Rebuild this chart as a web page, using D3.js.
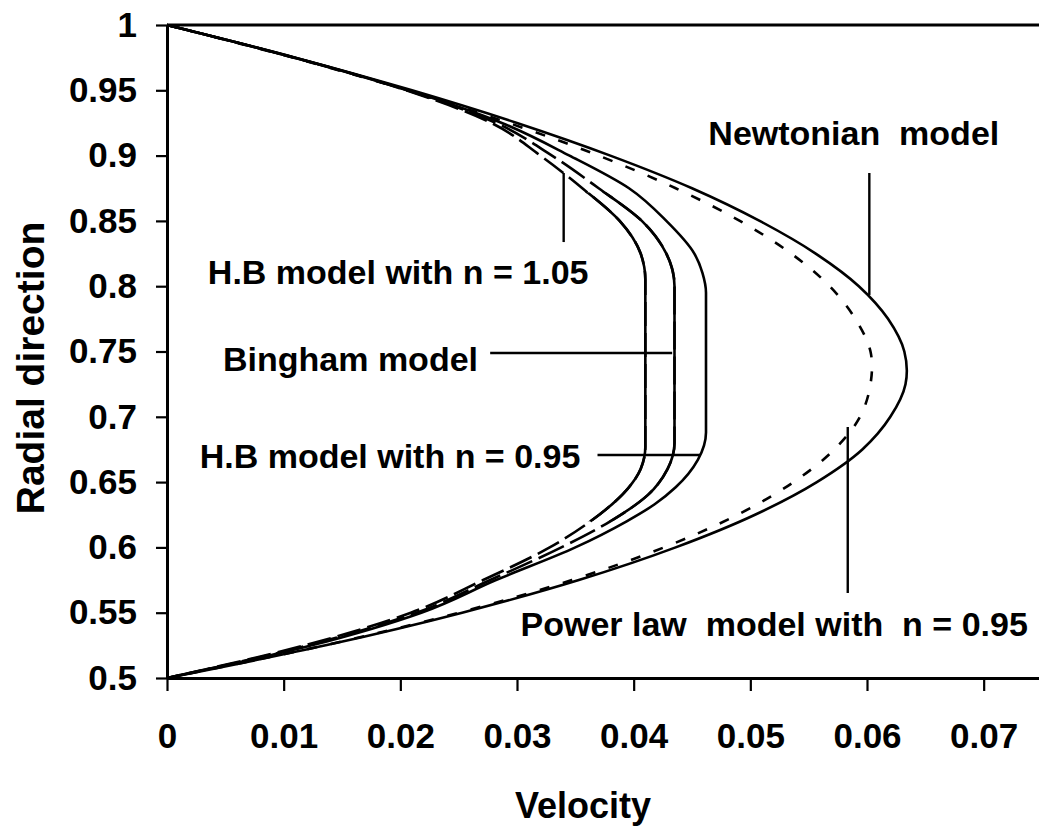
<!DOCTYPE html>
<html>
<head>
<meta charset="utf-8">
<script src="https://cdn.jsdelivr.net/npm/d3@7"></script>
<style>
  body { margin: 0; background: #fff; }
  text { font-family: "Liberation Sans", Arial, sans-serif; font-weight: bold; fill: #000; white-space: pre; }
</style>
</head>
<body>
<svg id="chart" width="1039" height="829"></svg>
<script>
// Radial positions (outer wall r = 1 down to inner wall r = 0.5)
const radialGrid = [1.0, 0.975, 0.95, 0.925, 0.9, 0.875, 0.85, 0.825, 0.8, 0.775, 0.75,
                    0.725, 0.7, 0.675, 0.65, 0.625, 0.6, 0.575, 0.55, 0.525, 0.5];
const newtonianVelocity = [0, 0.0110, 0.0210, 0.0300, 0.0380, 0.0450, 0.0508, 0.0556, 0.0593, 0.0618, 0.0632,
                           0.0633, 0.0620, 0.0596, 0.0557, 0.0504, 0.0436, 0.0353, 0.0253, 0.0136, 0];
const powerLawVelocity  = [0, 0.0108, 0.0206, 0.0293, 0.0370, 0.0436, 0.0491, 0.0535, 0.0568, 0.0590, 0.0603,
                           0.0603, 0.0594, 0.0572, 0.0537, 0.0489, 0.0426, 0.0347, 0.0250, 0.0135, 0];

// Herschel-Bulkley n = 1.05 (plug between r = 0.677 and 0.805)
const hbHighRadius   = [1.0, 0.975, 0.95, 0.925, 0.9, 0.875, 0.85, 0.825, 0.805, 0.677, 0.66, 0.645, 0.62, 0.6, 0.575, 0.55, 0.525, 0.5];
const hbHighVelocity = [0, 0.0109, 0.0205, 0.0278, 0.0320, 0.0356, 0.0388, 0.0406, 0.0410, 0.0410, 0.0406, 0.0395, 0.0363, 0.0328, 0.0271, 0.0209, 0.0118, 0];

// Bingham (plug between r = 0.68 and 0.80)
const binghamRadius   = [1.0, 0.975, 0.95, 0.925, 0.9, 0.875, 0.85, 0.825, 0.8, 0.68, 0.66, 0.64, 0.62, 0.6, 0.575, 0.55, 0.525, 0.5];
const binghamVelocity = [0, 0.0109, 0.0206, 0.0282, 0.0330, 0.0370, 0.0407, 0.0428, 0.0435, 0.0435, 0.0429, 0.0412, 0.0380, 0.0338, 0.0277, 0.0214, 0.0121, 0];

// Herschel-Bulkley n = 0.95 (plug between r = 0.688 and 0.795)
const hbLowRadius   = [1.0, 0.975, 0.95, 0.925, 0.9, 0.875, 0.85, 0.825, 0.81, 0.795, 0.688, 0.667, 0.646, 0.633, 0.62, 0.6, 0.575, 0.55, 0.525, 0.5];
const hbLowVelocity = [0, 0.0110, 0.0207, 0.0287, 0.0345, 0.0396, 0.0428, 0.0452, 0.0459, 0.0462, 0.0462, 0.0455, 0.0436, 0.0418, 0.0394, 0.0350, 0.0282, 0.0218, 0.0124, 0];

const xTicks = [0, 0.01, 0.02, 0.03, 0.04, 0.05, 0.06, 0.07];
const xTickLabels = ["0", "0.01", "0.02", "0.03", "0.04", "0.05", "0.06", "0.07"];
const yTicks = [0.5, 0.55, 0.6, 0.65, 0.7, 0.75, 0.8, 0.85, 0.9, 0.95, 1];
const yTickLabels = ["0.5", "0.55", "0.6", "0.65", "0.7", "0.75", "0.8", "0.85", "0.9", "0.95", "1"];

// Callout labels (anchor in data units) and their leader lines [u1, r1, u2, r2]
const labelTexts    = ["Newtonian  model", "H.B model with n = 1.05", "Bingham model", "H.B model with n = 0.95", "Power law  model with  n = 0.95"];
const labelVelocity = [0.0464, 0.0035, 0.0048, 0.0028, 0.0303];
const labelRadius   = [0.9081, 0.8017, 0.7351, 0.6608, 0.5322];
const leaderLines = [
  [0.0602, 0.8867, 0.0602, 0.7933],
  [0.0340, 0.8867, 0.0340, 0.8338],
  [0.0277, 0.7489, 0.0433, 0.7489],
  [0.0369, 0.6708, 0.0457, 0.6708],
  [0.05835, 0.6922, 0.05835, 0.5651]
];

const svg = d3.select("#chart");
const x = d3.scaleLinear().domain([0, 0.075]).range([167, 1042]);
const y = d3.scaleLinear().domain([0.5, 1]).range([678, 25]);

// smooth profiles pass through every point; plug-flow profiles keep their flat core
const smoothLine = d3.line().x(d => x(d[0])).y(d => y(d[1])).curve(d3.curveCatmullRom.alpha(0.5));
const plugLine   = d3.line().x(d => x(d[0])).y(d => y(d[1])).curve(d3.curveMonotoneY);

const pairs = (us, rs) => rs.map((r, i) => [us[i], r]);

// band where the plug-flow curves are drawn as continuous strokes
svg.append("defs").append("clipPath").attr("id", "coreBand")
  .append("rect")
  .attr("x", 0).attr("width", 1039)
  .attr("y", y(0.872)).attr("height", y(0.62) - y(0.872));

const curves = svg.append("g").attr("fill", "none").attr("stroke", "#000").attr("stroke-width", 2.6);

// Newtonian
curves.append("path").attr("d", smoothLine(pairs(newtonianVelocity, radialGrid)));
// Power law n = 0.95
curves.append("path").attr("d", smoothLine(pairs(powerLawVelocity, radialGrid)))
  .attr("stroke-dasharray", "10,14");
// H.B n = 0.95 (solid)
curves.append("path").attr("d", plugLine(pairs(hbLowVelocity, hbLowRadius)));
// Bingham and H.B n = 1.05: long dashes near the walls, continuous across the plug
[[binghamVelocity, binghamRadius, "28,7"], [hbHighVelocity, hbHighRadius, "24,7"]].forEach(([us, rs, dash]) => {
  const d = plugLine(pairs(us, rs));
  curves.append("path").attr("d", d).attr("stroke-dasharray", dash);
  curves.append("path").attr("d", d).attr("clip-path", "url(#coreBand)");
});

// Axes
const axisW = 3;
const yAxis = svg.append("g").attr("transform", `translate(${x(0)},0)`)
  .call(d3.axisLeft(y).tickValues(yTicks).tickFormat((d, i) => yTickLabels[i])
        .tickSizeInner(11).tickSizeOuter(0).tickPadding(19));
const xAxis = svg.append("g").attr("transform", `translate(0,${y(0.5)})`)
  .call(d3.axisBottom(x).tickValues(xTicks).tickFormat((d, i) => xTickLabels[i])
        .tickSizeInner(13).tickSizeOuter(0).tickPadding(32));
[xAxis, yAxis].forEach(g => {
  g.attr("font-family", null).attr("font-size", null);
  g.select(".domain").attr("stroke-width", axisW).attr("stroke", "#000");
  g.selectAll(".tick line").attr("stroke-width", 2.2).attr("stroke", "#000");
  g.selectAll(".tick text").style("font-size", "35px");
});
// top frame
svg.append("line")
  .attr("x1", x(0)).attr("x2", x(0.075))
  .attr("y1", y(1)).attr("y2", y(1))
  .attr("stroke", "#000").attr("stroke-width", axisW);

// Axis titles
svg.append("text")
  .attr("x", 583).attr("y", 818)
  .attr("text-anchor", "middle")
  .style("font-size", "36px")
  .text("Velocity");
svg.append("text")
  .attr("transform", "translate(44,368) rotate(-90)")
  .attr("text-anchor", "middle")
  .style("font-size", "39px")
  .text("Radial direction");

// Callouts
const notes = svg.append("g");
leaderLines.forEach(([u1, r1, u2, r2]) => {
  notes.append("line")
    .attr("x1", x(u1)).attr("y1", y(r1)).attr("x2", x(u2)).attr("y2", y(r2))
    .attr("stroke", "#000").attr("stroke-width", 2.4);
});
labelTexts.forEach((t, i) => {
  notes.append("text")
    .attr("x", x(labelVelocity[i])).attr("y", y(labelRadius[i]))
    .style("font-size", "34px")
    .text(t);
});
</script>
</body>
</html>
